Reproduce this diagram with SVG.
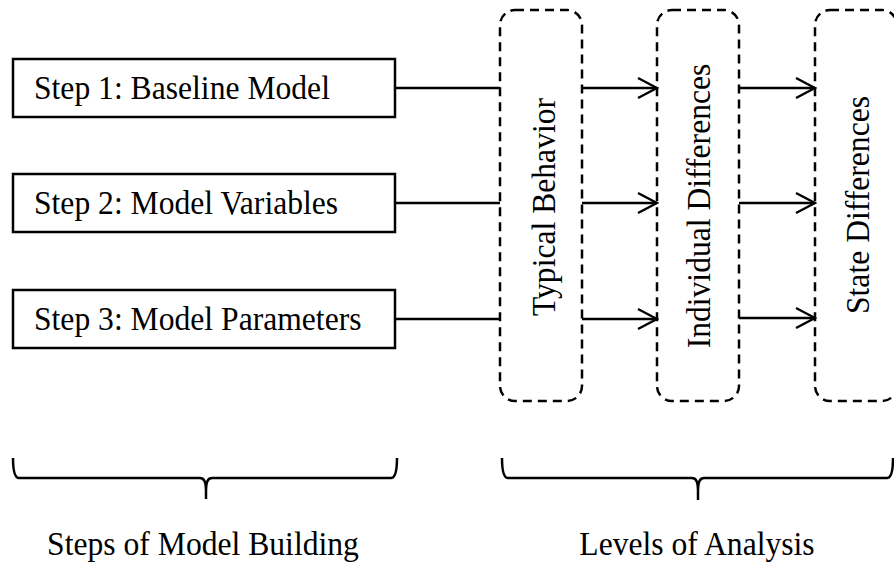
<svg xmlns="http://www.w3.org/2000/svg" width="894" height="568" viewBox="0 0 894 568">
<style>
  .t{font-family:"Liberation Serif","Times New Roman",serif;font-size:34px;fill:#000}
  .box{fill:#fff;stroke:#000;stroke-width:2.5}
  .lvl{fill:none;stroke:#000;stroke-width:2.5;stroke-dasharray:9,6}
  .ln{fill:none;stroke:#000;stroke-width:2.5}
</style>
<defs>
  <marker id="arr" markerUnits="userSpaceOnUse" markerWidth="24" markerHeight="24" viewBox="-22 -12 24 24" refX="0" refY="0" orient="auto">
    <path d="M-19,-10 L0,0 L-19,10" fill="none" stroke="#000" stroke-width="2.5"/>
  </marker>
</defs>
<rect width="894" height="568" fill="#fff"/>
<g id="step1"><rect class="box" x="13" y="59" width="382" height="58"/><text class="t" transform="translate(34,99) scale(0.93,1)">Step 1: Baseline Model</text></g>
<g id="step2"><rect class="box" x="13" y="174" width="382" height="58"/><text class="t" transform="translate(34,214) scale(0.93,1)">Step 2: Model Variables</text></g>
<g id="step3"><rect class="box" x="13" y="290" width="382" height="58"/><text class="t" transform="translate(34,330) scale(0.93,1)">Step 3: Model Parameters</text></g>
<g id="typical"><rect class="lvl" x="500" y="10" width="82" height="391" rx="15"/><text class="t" transform="translate(555,207) rotate(-90) scale(0.93,1)" text-anchor="middle">Typical Behavior</text></g>
<g id="individual"><rect class="lvl" x="657" y="10" width="82" height="391" rx="15"/><text class="t" transform="translate(710,206) rotate(-90) scale(0.93,1)" text-anchor="middle">Individual Differences</text></g>
<g id="state"><rect class="lvl" x="815" y="10" width="82" height="391" rx="15"/><text class="t" transform="translate(869,205) rotate(-90) scale(0.93,1)" text-anchor="middle">State Differences</text></g>
<g id="connectors">
  <line class="ln" x1="395" y1="88" x2="500" y2="88"/>
  <line class="ln" x1="395" y1="203" x2="500" y2="203"/>
  <line class="ln" x1="395" y1="319" x2="500" y2="319"/>
  <line class="ln" x1="582" y1="88" x2="657" y2="88" marker-end="url(#arr)"/>
  <line class="ln" x1="582" y1="203" x2="657" y2="203" marker-end="url(#arr)"/>
  <line class="ln" x1="582" y1="319" x2="657" y2="319" marker-end="url(#arr)"/>
  <line class="ln" x1="739" y1="88" x2="815" y2="88" marker-end="url(#arr)"/>
  <line class="ln" x1="739" y1="203" x2="815" y2="203" marker-end="url(#arr)"/>
  <line class="ln" x1="739" y1="318" x2="815" y2="318" marker-end="url(#arr)"/>
</g>
<g id="brace-steps">
  <path class="ln" d="M13,458 Q13,478 19,478 L200,478 Q206,478 206,490 L206,499 M206,490 Q206,478 212,478 L391,478 Q397,478 397,458"/>
  <text class="t" transform="translate(203,555) scale(0.93,1)" text-anchor="middle">Steps of Model Building</text>
</g>
<g id="brace-levels">
  <path class="ln" d="M502,458 Q502,478 508,478 L692,478 Q698,478 698,490 L698,500 M698,490 Q698,478 704,478 L887,478 Q893,478 893,458"/>
  <text class="t" transform="translate(697,555) scale(0.93,1)" text-anchor="middle">Levels of Analysis</text>
</g>
</svg>
